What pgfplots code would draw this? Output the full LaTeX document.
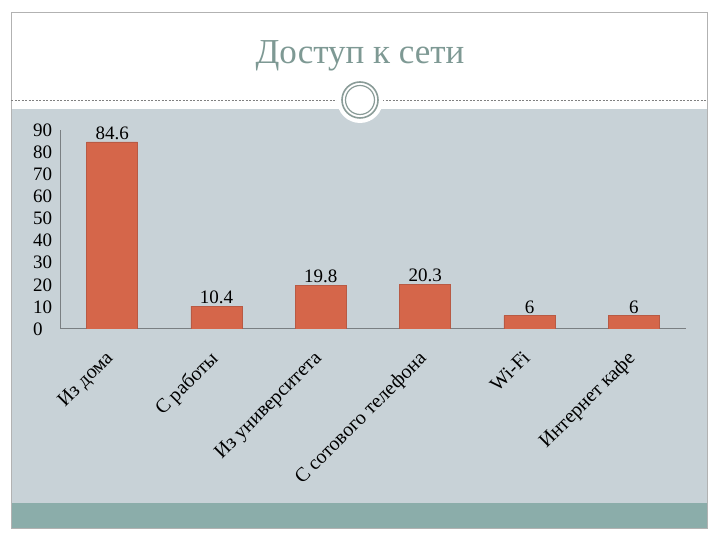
\documentclass[border=0pt]{standalone}
\usepackage{pgfplots}
\pgfplotsset{compat=1.18}
\usepackage{fontspec}
\setmainfont{Liberation Serif}
\definecolor{barc}{HTML}{D5664A}
\definecolor{bardraw}{HTML}{B85A44}
\definecolor{panel}{HTML}{C8D2D7}
\definecolor{band}{HTML}{8BADAA}
\definecolor{titlec}{HTML}{7E9994}
\definecolor{ring}{HTML}{8A9C98}
\definecolor{axisc}{HTML}{7A7F82}

\begin{document}
\begin{tikzpicture}[x=1pt,y=1pt]
  % slide background
  \fill[white] (0,0) rectangle (720,540);
  \fill[panel] (11,37) rectangle (707,431);
  \fill[band] (11,12) rectangle (707,37);
  \draw[gray!60, line width=0.8pt] (11,12) rectangle (707,528);
  \draw[gray, line width=0.6pt, dash pattern=on 2pt off 1.5pt] (11,440) -- (707,440);
  \fill[white] (360,440) circle (23);
  \draw[ring, line width=1.6pt] (360,440) circle (18);
  \draw[ring, line width=1.2pt] (360,440) circle (14.5);
  \node[titlec, font=\fontsize{35}{40}\selectfont] at (360,484) {Доступ к сети};

  \begin{axis}[
      scale only axis,
      width=626pt, height=199pt,
      at={(60pt,211pt)}, anchor=south west,
      xmin=-0.5, xmax=5.5,
      ymin=0, ymax=90,
      ytick={0,10,...,90},
      xtick={0,...,5},
      xticklabels={Из дома, С работы, Из университета, С сотового телефона, Wi-Fi, Интернет кафе},
      axis x line*=bottom,
      axis y line*=left,
      axis line style={-, draw=axisc, line width=1pt},
      major tick length=0pt,
      /pgf/number format/assume math mode=true,
      yticklabel style={anchor=west, inner sep=0pt, xshift=-27pt,
                        font=\fontsize{19}{19}\selectfont},
      xticklabel style={rotate=45, anchor=north east, inner sep=0pt,
                        xshift=-20pt, yshift=-9pt,
                        font=\fontsize{20}{20}\selectfont},
      ybar, bar width=51pt,
      nodes near coords,
      every node near coord/.append style={black, inner sep=2pt,
                        font=\fontsize{19}{19}\selectfont},
    ]
    \addplot[fill=barc, draw=bardraw, line width=0.6pt]
      coordinates {(0,84.6) (1,10.4) (2,19.8) (3,20.3) (4,6) (5,6)};
  \end{axis}
\end{tikzpicture}
\end{document}
